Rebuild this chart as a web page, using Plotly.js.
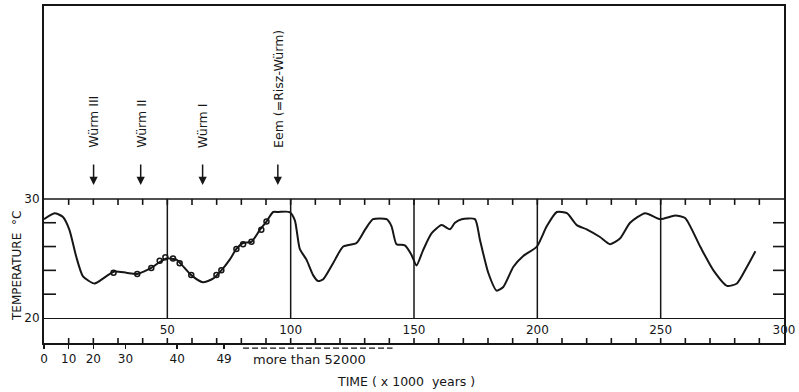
<!DOCTYPE html>
<html>
<head>
<meta charset="utf-8">
<script src="https://cdn.plot.ly/plotly-3.0.1.min.js"></script>
<style>html,body{margin:0;padding:0;background:#fff;}#chart{width:799px;height:392px;}</style>
</head>
<body>
<div id="chart"></div>
<script>
// Temperature curve (x on upper scale 0-300, y in °C)
const curveX = [0, 4.3, 7.6, 10.3, 13, 15.8, 20.5, 25.2, 28.6, 33.4,
  37.7, 43.5, 46.9, 49.8, 53.7, 55.7, 59.7, 64.4, 68.5, 71.9,
  75.3, 78, 80.7, 84.1, 87.5, 90.2, 92.9, 95, 99.6, 101.7,
  103.7, 106.4, 109.1, 111.1, 113.2, 117.2, 121.3, 126.7, 130.1, 133.4,
  138.9, 140.9, 142.9, 146.3, 149, 151, 153.7, 157.1, 161.2, 164.6,
  166.6, 169.3, 174.7, 176.7, 180.1, 183.5, 186.2, 190.3, 194.3, 199.8,
  203.8, 207.9, 212, 216, 220, 225.4, 229.5, 233.6, 237.6, 243.7,
  249.8, 255.9, 259.9, 266, 271.4, 276.9, 280.9, 285, 288.4];
const curveT = [28.3, 28.8, 28.5, 27.4, 25.2, 23.5, 22.9, 23.5, 23.9, 23.8,
  23.7, 24.2, 24.7, 25.0, 24.9, 24.5, 23.6, 23.0, 23.3, 24.0,
  24.9, 25.8, 26.3, 26.4, 27.4, 28.1, 28.9, 28.9, 28.9, 28.2,
  25.8, 24.9, 23.6, 23.1, 23.25, 24.6, 26.0, 26.3, 27.4, 28.3,
  28.3, 27.7, 26.2, 26.1, 25.3, 24.4, 25.7, 27.1, 27.8, 27.45,
  28.0, 28.3, 28.3, 26.6, 23.8, 22.3, 22.6, 24.3, 25.2, 26.0,
  27.7, 28.9, 28.8, 27.8, 27.45, 26.8, 26.2, 26.7, 28.0, 28.8,
  28.3, 28.6, 28.4, 26.0, 24.0, 22.7, 22.9, 24.3, 25.6];

// Measured sample points (open circles)
const sampleX = [28.2, 37.8, 43.5, 46.9, 49.2, 52.3, 55, 59.7, 69.9, 71.9, 78, 80.7, 84.1, 88.1, 90.2];
const sampleT = [23.8, 23.7, 24.2, 24.8, 25.1, 25.0, 24.6, 23.6, 23.6, 24.0, 25.8, 26.2, 26.4, 27.4, 28.1];

// Upper scale labels
const upperTicks = [50, 100, 150, 200, 250, 300];
// Lower (x1000 years) scale: positions on upper scale and labels
const lowerTickPos = [0, 10, 20, 33, 54, 73];
const lowerTickText = ['0', '10', '20', '30', '40', '49'];
// Temperature ticks
const tempLabels = [20, 30];
const tempMinor = [22, 24, 26, 28];
// Events
const eventX = [20.1, 39.2, 64.3, 94.8];
const eventLabels = ['Würm III', 'Würm II', 'Würm I', 'Eem (=Risz-Würm)'];
// Vertical division lines
const dividers = [50, 100, 150, 200, 250];

const FONT = 'DejaVu Sans, Liberation Sans, sans-serif';
const INK = '#161616';
const YR = [17.9, 46.2];
const XR = [0, 300];
const PX_X = 740 / (XR[1] - XR[0]);   // pixels per x unit
const PX_Y = 337 / (YR[1] - YR[0]);   // pixels per y unit

// tick marks as a single line trace with gaps (derived from the tick lists)
const tickX = [], tickY = [];
function seg(x0, y0, x1, y1) { tickX.push(x0, x1, null); tickY.push(y0, y1, null); }
tempMinor.forEach(v => {
  seg(XR[0], v, XR[0] + 12 / PX_X, v);
  seg(XR[1], v, XR[1] - 11 / PX_X, v);
});
for (let v = 10; v < 300; v += 10) {
  seg(v, 30, v, 30 - 6 / PX_Y);
  seg(v, YR[0], v, YR[0] + 5 / PX_Y);
}

const traces = [
  {x: tickX, y: tickY, type: 'scatter', mode: 'lines', connectgaps: false, cliponaxis: false,
   line: {color: INK, width: 1.6}, hoverinfo: 'skip', showlegend: false},
  {x: curveX, y: curveT, type: 'scatter', mode: 'lines',
   line: {color: INK, width: 2, shape: 'spline', smoothing: 0.6},
   hoverinfo: 'skip', showlegend: false},
  {x: sampleX, y: sampleT, type: 'scatter', mode: 'markers',
   marker: {symbol: 'circle-open', size: 5, color: INK, line: {width: 1.5, color: INK}},
   hoverinfo: 'skip', showlegend: false}
];

const shapes = dividers.map(v => ({type: 'line', xref: 'x', yref: 'y', x0: v, x1: v, y0: 20, y1: 30,
  line: {color: INK, width: 1.5}}));
// 30 °C line
shapes.push({type: 'line', xref: 'paper', yref: 'y', x0: 0, x1: 1, y0: 30, y1: 30, line: {color: INK, width: 1.5}});
// dashed bracket under lower axis
shapes.push({type: 'line', xref: 'paper', yref: 'paper', x0: 0.269, x1: 0.471, y0: -0.015, y1: -0.015,
  line: {color: INK, width: 1.3, dash: '6px,3px'}});

const annotations = [];
eventX.forEach((x, i) => {
  annotations.push({x: x, y: 31.17, xref: 'x', yref: 'y', text: '', showarrow: true,
    ax: 0, ay: -22, arrowhead: 2, arrowsize: 1.1, arrowwidth: 1.5, arrowcolor: INK});
  annotations.push({x: x, y: 34.1, xref: 'x', yref: 'y', text: eventLabels[i], showarrow: false,
    textangle: -90, xanchor: 'center', yanchor: 'bottom', font: {family: FONT, size: 12.5, color: INK}});
});
annotations.push({xref: 'paper', yref: 'paper', x: 0.359, y: -0.05, text: 'more than 52000',
  showarrow: false, xanchor: 'center', yanchor: 'middle', font: {family: FONT, size: 13, color: INK}});
annotations.push({xref: 'paper', yref: 'paper', x: 0.489, y: -0.113, text: 'TIME ( x 1000  years )',
  showarrow: false, xanchor: 'center', yanchor: 'middle', font: {family: FONT, size: 12.5, color: INK}});
annotations.push({xref: 'paper', yref: 'paper', x: -0.0365, y: 0.2285, text: 'TEMPERATURE  °C',
  showarrow: false, textangle: -90, xanchor: 'center', yanchor: 'middle', font: {family: FONT, size: 12, color: INK}});

const layout = {
  width: 799, height: 392,
  margin: {l: 44, r: 15, t: 6, b: 49},
  paper_bgcolor: '#ffffff', plot_bgcolor: '#ffffff',
  font: {family: FONT, color: INK},
  showlegend: false,
  // bottom axis: lower (x1000 years) scale labels
  xaxis: {
    range: XR, showline: true, linewidth: 2, linecolor: INK, mirror: true,
    showgrid: false, zeroline: false,
    tickmode: 'array', tickvals: lowerTickPos, ticktext: lowerTickText,
    ticks: 'outside', ticklen: 4, tickwidth: 1.5, tickcolor: INK,
    tickfont: {family: FONT, size: 12, color: INK}
  },
  // line at 20 °C carrying upper scale labels
  xaxis2: {
    overlaying: 'x', anchor: 'free', position: 0.0742, side: 'bottom',
    range: XR, showline: true, linewidth: 1.5, linecolor: INK,
    showgrid: false, zeroline: false,
    tickmode: 'array', tickvals: upperTicks, ticks: '',
    tickfont: {family: FONT, size: 12, color: INK}
  },
  yaxis: {
    range: YR, showline: true, linewidth: 2, linecolor: INK, mirror: true,
    showgrid: false, zeroline: false,
    tickmode: 'array', tickvals: tempLabels, ticks: '',
    tickfont: {family: FONT, size: 12, color: INK}
  },
  shapes: shapes,
  annotations: annotations
};

// invisible helper trace so the overlay axis is rendered
traces.push({x: [XR[0]], y: [YR[0]], xaxis: 'x2', yaxis: 'y', mode: 'markers',
  marker: {opacity: 0}, hoverinfo: 'skip', showlegend: false});

Plotly.newPlot('chart', traces, layout, {staticPlot: true, displayModeBar: false});
</script>
</body>
</html>
